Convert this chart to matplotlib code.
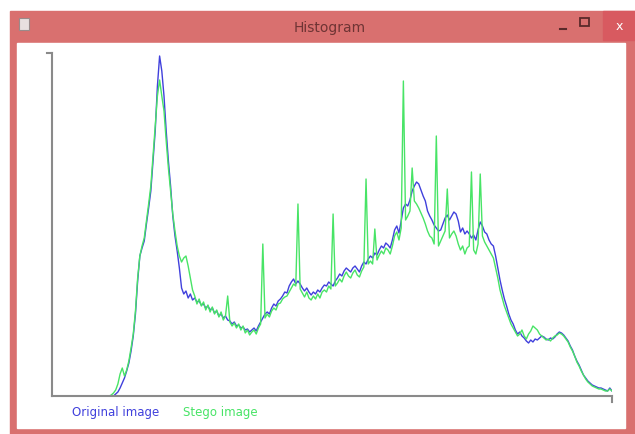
import matplotlib.pyplot as plt
from matplotlib.patches import Rectangle

# histogram of grey levels 0..255, original and stego image
original = [0] * 29 + [
    2, 4, 8, 13, 18, 25, 33, 45, 60, 82,
    115, 140, 148, 155, 172, 188, 205, 235, 265, 310,
    340, 325, 300, 265, 235, 210, 180, 160, 145, 128,
    108, 102, 105, 98, 102, 96, 98, 94, 95, 91,
    92, 88, 90, 86, 88, 83, 85, 80, 82, 78,
    80, 76, 75, 72, 74, 70, 71, 68, 69, 66,
    67, 64, 66, 68, 65, 70, 74, 78, 82, 84,
    82, 88, 92, 90, 95, 97, 100, 104, 103, 110,
    114, 117, 112, 115, 112, 108, 105, 108, 104, 101,
    104, 102, 106, 104, 108, 111, 110, 114, 112, 110,
    115, 118, 122, 120, 125, 128, 126, 124, 128, 130,
    127, 124, 130, 134, 132, 137, 140, 138, 143, 141,
    146, 150, 148, 153, 151, 148, 156, 166, 170, 163,
    175, 188, 192, 190, 196, 205, 210, 214, 212, 206,
    200, 195, 185, 180, 176, 171, 168, 165, 166, 172,
    178, 181, 176, 180, 184, 182, 175, 164, 168, 162,
    165, 162, 158, 161, 156, 166, 174, 170, 164, 162,
    156, 152, 150, 140, 128, 116, 106, 97, 90, 82,
    76, 72, 66, 62, 64, 60, 58, 55, 53, 56,
    54, 57, 56, 58, 60, 59, 57, 56, 58, 57,
    59, 62, 64, 63, 61, 58, 55, 50, 46, 40,
    35, 31, 26, 21, 18, 15, 13, 11, 10, 9,
    8, 8, 7, 6, 5, 8, 5,
]

stego = [0] * 27 + [
    1, 3, 6, 12, 22, 28, 20, 26, 35, 48,
    62, 85, 118, 140, 150, 158, 175, 192, 210, 240,
    270, 300, 316, 300, 285, 255, 228, 205, 182, 165,
    150, 140, 134, 138, 140, 130, 118, 106, 100, 92,
    97, 90, 94, 86, 91, 84, 89, 82, 86, 79,
    84, 76, 80, 100, 74, 70, 73, 68, 72, 66,
    70, 63, 66, 61, 64, 66, 62, 68, 72, 152,
    78, 82, 79, 85, 88, 86, 92, 93, 97, 99,
    100, 104, 108, 112, 110, 192, 107, 103, 99, 104,
    98, 96, 100, 97, 102, 98, 104, 106, 104, 110,
    107, 182, 110, 113, 117, 114, 120, 124, 120, 118,
    123, 126, 121, 119, 125, 129, 217, 132, 135, 132,
    167, 136, 141, 145, 142, 148, 146, 142, 150, 160,
    164, 156, 168, 315, 176, 180, 185, 228, 195, 192,
    188, 183, 178, 172, 165, 160, 158, 152, 260, 150,
    155, 160, 165, 207, 158, 162, 165, 160, 152, 146,
    150, 142, 148, 150, 224, 146, 142, 152, 222, 160,
    154, 150, 146, 142, 138, 128, 118, 106, 98, 90,
    84, 78, 72, 68, 64, 60, 62, 66, 60, 57,
    62, 65, 70, 68, 66, 62, 60, 58, 56, 57,
    55, 58, 60, 61, 63, 62, 60, 57, 54, 49,
    45, 40, 34, 30, 25, 21, 17, 14, 12, 10,
    9, 8, 7, 7, 6, 5, 5, 7, 5,
]

labels = ["Original image", "Stego image"]
line_colors = ["#4040dc", "#48e466"]
levels = list(range(256))

W, H = 635, 435
fig = plt.figure(figsize=(W / 100, H / 100), dpi=100)
fig.patch.set_facecolor("white")

# window frame drawn in pixel coordinates
frame = fig.add_axes([0, 0, 1, 1])
frame.set_xlim(0, W)
frame.set_ylim(H, 0)
frame.axis("off")
red = "#d9706f"
frame.add_patch(Rectangle((10, 12), W - 10, H - 12, color=red))
frame.add_patch(Rectangle((603, 12), 32, 29, color="#d85a60"))
frame.add_patch(Rectangle((17, 44), 608, 385, color="white"))
frame.add_patch(Rectangle((19, 19), 10, 12, facecolor="#e8e0e0", edgecolor="#9a8a8a", lw=0.8))
frame.text(330, 28, "Histogram", ha="center", va="center", fontsize=10, color="#6e3434")
frame.plot([560, 566], [30, 30], color="#5a2a2a", lw=1.5)
frame.add_patch(Rectangle((580, 19), 9, 8, facecolor="none", edgecolor="#5a2a2a", lw=1.3))
frame.text(619, 26, "x", ha="center", va="center", fontsize=9, color="white")

# plot area
ax = fig.add_axes([52 / W, (H - 397) / H, 560 / W, 343 / H])
ax.plot(levels, original, color=line_colors[0], lw=1.0)
ax.plot(levels, stego, color=line_colors[1], lw=1.0)
ax.set_xlim(0, 255)
ax.set_ylim(0, 343)
ax.set_xticks([])
ax.set_yticks([])
for s in ["top", "right"]:
    ax.spines[s].set_visible(False)
for s in ["left", "bottom"]:
    ax.spines[s].set_color("#8a8a8a")
    ax.spines[s].set_linewidth(1.5)
frame.plot([47, 52], [54, 54], color="#8a8a8a", lw=1.5)
frame.plot([612, 612], [397, 403], color="#8a8a8a", lw=1.5)

frame.text(72, 413, labels[0], ha="left", va="center", fontsize=8.5, color=line_colors[0])
frame.text(183, 413, labels[1], ha="left", va="center", fontsize=8.5, color=line_colors[1])

fig.savefig("out.png", dpi=100)
